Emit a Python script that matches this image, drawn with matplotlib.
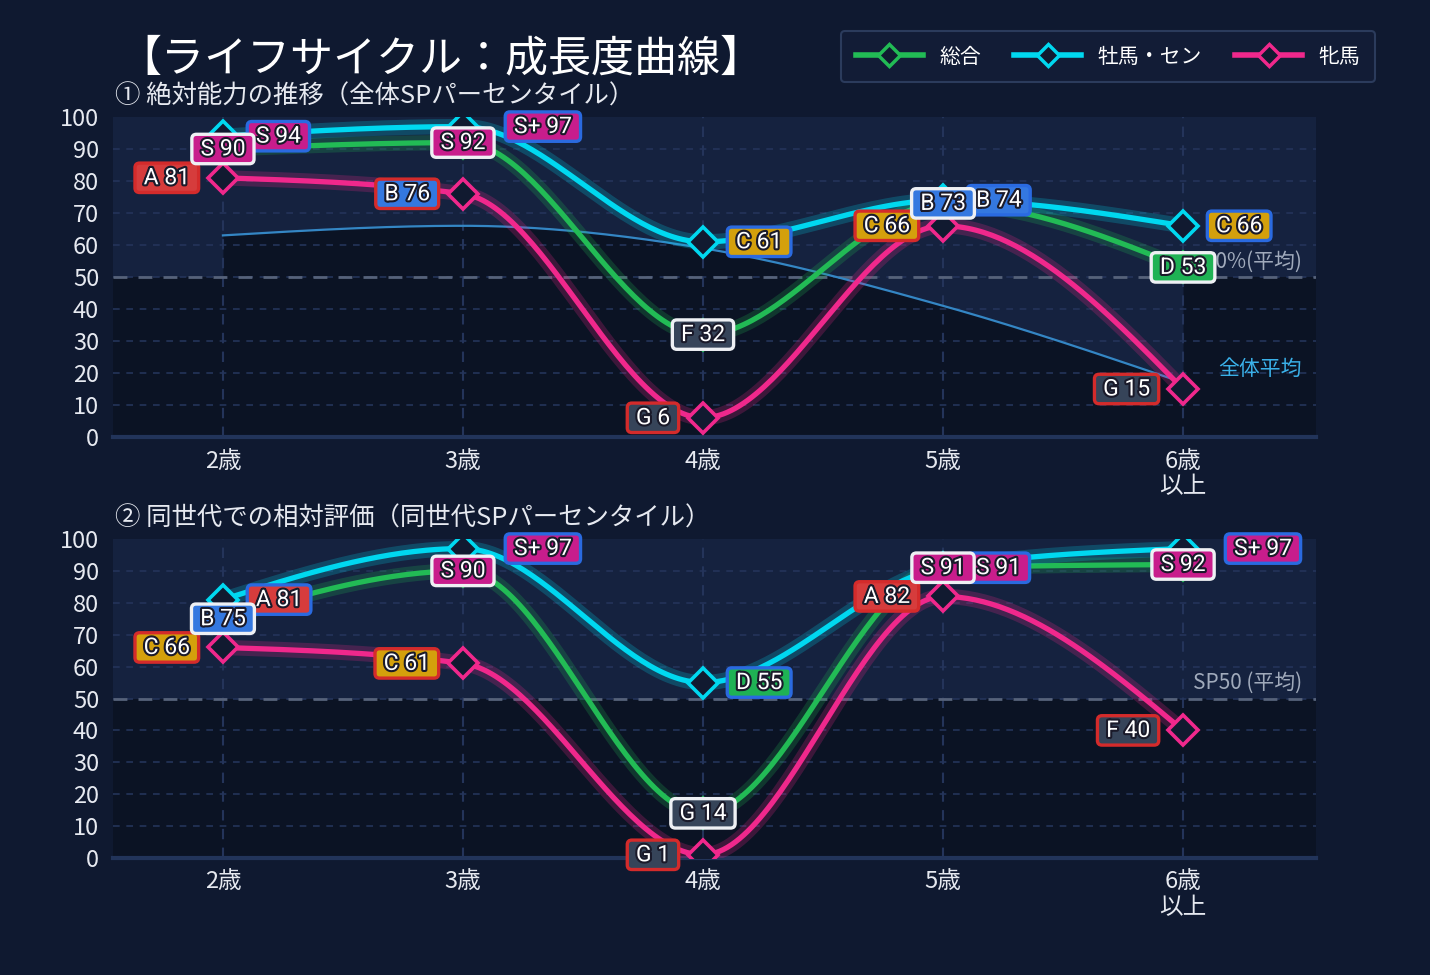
import numpy as np
import matplotlib.pyplot as plt
import matplotlib.patheffects as pe
from matplotlib.lines import Line2D
from matplotlib.path import Path

plt.rcParams['font.family'] = ['Noto Sans CJK JP', 'DejaVu Sans']

# ---- データ ----
ages = ['2歳', '3歳', '4歳', '5歳', '6歳\n以上']
series_names = ['総合', '牡馬・セン', '牝馬']

# ① 絶対能力（全体SPパーセンタイル）
abs_total = [90, 92, 32, 73, 53]
abs_total_grade = ['S', 'S', 'F', 'B', 'D']
abs_male = [94, 97, 61, 74, 66]
abs_male_grade = ['S', 'S+', 'C', 'B', 'C']
abs_female = [81, 76, 6, 66, 15]
abs_female_grade = ['A', 'B', 'G', 'C', 'G']
abs_avg = [63, 66, 59, 41, 17]

# ② 同世代での相対評価（同世代SPパーセンタイル）
rel_total = [75, 90, 14, 91, 92]
rel_total_grade = ['B', 'S', 'G', 'S', 'S']
rel_male = [81, 97, 55, 91, 97]
rel_male_grade = ['A', 'S+', 'D', 'S', 'S+']
rel_female = [66, 61, 1, 82, 40]
rel_female_grade = ['C', 'C', 'G', 'A', 'F']

# ---- 色 ----
BG = '#0f1930'
LIGHT = '#15223f'
DARK = '#0b1324'
GRID = '#24345a'
line_colors = ['#22bb55', '#00d8f0', '#f0288c']
border_colors = ['#eef0f4', '#2a6ae0', '#d42b2b']
grade_colors = {'S+': '#c81d8c', 'S': '#c81d8c', 'A': '#d63c3c', 'B': '#3478e0',
                'C': '#d4a00c', 'D': '#1fb254', 'E': '#364459', 'F': '#364459',
                'G': '#364459'}


def monotone(xv, yv, n=60):
    # d3 の monotoneX と同じ考え方のスムーズ曲線
    xv = np.asarray(xv, float)
    yv = np.asarray(yv, float)
    h = np.diff(xv)
    s = np.diff(yv) / h
    m = np.zeros_like(yv)
    for i in range(1, len(yv) - 1):
        p = (s[i - 1] * h[i] + s[i] * h[i - 1]) / (h[i - 1] + h[i])
        m[i] = (np.sign(s[i - 1]) + np.sign(s[i])) * min(abs(s[i - 1]), abs(s[i]), 0.5 * abs(p))
    m[0] = (3 * s[0] - m[1]) / 2
    m[-1] = (3 * s[-1] - m[-2]) / 2
    cx, cy = [], []
    for i in range(len(h)):
        t = np.linspace(0, 1, n)
        h00 = 2 * t**3 - 3 * t**2 + 1
        h10 = t**3 - 2 * t**2 + t
        h01 = -2 * t**3 + 3 * t**2
        h11 = t**3 - t**2
        cx.append(xv[i] + t * h[i])
        cy.append(h00 * yv[i] + h10 * h[i] * m[i] + h01 * yv[i + 1] + h11 * h[i] * m[i + 1])
    return np.concatenate(cx), np.concatenate(cy)


def tag_box(x0, y0, width, height, mutation_size):
    # 横に広め、縦に薄めの角丸ラベル
    px, py, r = 0.38 * mutation_size, 0.14 * mutation_size, 0.2 * mutation_size
    x0, y0 = x0 - px, y0 - py
    x1, y1 = x0 + width + 2 * px, y0 + height + 2 * py
    verts = [(x0 + r, y0), (x1 - r, y0), (x1, y0), (x1, y0 + r), (x1, y1 - r), (x1, y1),
             (x1 - r, y1), (x0 + r, y1), (x0, y1), (x0, y1 - r), (x0, y0 + r), (x0, y0),
             (x0 + r, y0), (x0 + r, y0)]
    codes = [Path.MOVETO, Path.LINETO, Path.CURVE3, Path.CURVE3, Path.LINETO, Path.CURVE3,
             Path.CURVE3, Path.LINETO, Path.CURVE3, Path.CURVE3, Path.LINETO, Path.CURVE3,
             Path.CURVE3, Path.CLOSEPOLY]
    return Path(verts, codes)


def put_tag(ax, x, y, grade, val, k):
    txt = f'{grade} {val}'
    if k == 0:
        off, ha = (0, 0), 'center'
    elif k == 1:
        off, ha = ((51 if grade == 'S+' else 33), 0), 'left'
    else:
        off, ha = (-33, 0), 'right'
    t = ax.annotate(txt, (x, y), xytext=off, textcoords='offset pixels', ha=ha, va='center',
                    fontsize=16.5, family=['Roboto', 'DejaVu Sans'], color='white',
                    zorder=8 - (k == 1) - 2 * (k == 2),
                    bbox=dict(boxstyle=tag_box, fc=grade_colors[grade], ec=border_colors[k], lw=2.4))
    t.set_path_effects([pe.withStroke(linewidth=3, foreground='#1a1a2a')])


def panel(ax, vals, grades, avg=None):
    xs = np.arange(len(ages))
    ax.set_facecolor(DARK)
    ax.set_xlim(-0.458, 4.554)
    ax.set_ylim(0, 100)
    ax.axhspan(50, 100, color=LIGHT, zorder=0, lw=0)
    if avg is not None:
        ax_, ay_ = monotone(xs, avg)
        ax.fill_between(ax_, ay_, 100, color=LIGHT, zorder=0.3, lw=0)
        ax.fill_between(ax_, 0, ay_, color=DARK, zorder=0.3, lw=0)
        ax.plot(ax_, ay_, color='#3486c4', lw=1.6, zorder=2)
    for v in range(10, 100, 10):
        ax.axhline(v, color=GRID, lw=1.2, ls=(0, (4, 4)), zorder=1)
    for x in xs:
        ax.axvline(x, color=GRID, lw=1.5, ls=(0, (5, 4)), zorder=1)
    ax.axhline(50, color='#56627a', lw=2, ls=(0, (5, 4)), zorder=1.5)

    for k in range(3):
        c = line_colors[k]
        cx, cy = monotone(xs, vals[k])
        ax.plot(cx, cy, color=c, lw=11, alpha=0.22, solid_capstyle='round', zorder=3 + k * 0.1)
        ax.plot(cx, cy, color=c, lw=3.8, solid_capstyle='round', zorder=3.05 + k * 0.1)
        ax.plot(xs, vals[k], 'D', ms=15, mfc='#111a30', mec=c, mew=2.6, zorder=4)
    # 総合のピーク
    top = int(np.argmax(vals[0]))
    ax.plot(xs[top], vals[0][top], marker='*', ms=20, color='#f0b400', zorder=4.5)

    for k in (2, 1, 0):
        for i in range(len(ages)):
            put_tag(ax, xs[i], vals[k][i], grades[k][i], vals[k][i], k)

    for sp in ax.spines.values():
        sp.set_visible(False)
    ax.spines['bottom'].set_visible(True)
    ax.spines['bottom'].set_color('#22345a')
    ax.spines['bottom'].set_linewidth(3)
    ax.set_yticks(range(0, 101, 10))
    ax.set_xticks(xs)
    ax.set_xticklabels(ages, linespacing=1.15)
    ax.tick_params(length=0, colors='#e6e9f0', labelsize=17)
    ax.tick_params(axis='y', pad=10)
    ax.tick_params(axis='x', pad=9)


fig = plt.figure(figsize=(14.3, 9.75), dpi=100, facecolor=BG)
ax1 = fig.add_axes([113 / 1430, 1 - 437 / 975, 1203 / 1430, 320 / 975])
ax2 = fig.add_axes([113 / 1430, 1 - 858 / 975, 1203 / 1430, 319 / 975])

panel(ax1, [abs_total, abs_male, abs_female],
      [abs_total_grade, abs_male_grade, abs_female_grade], avg=abs_avg)
panel(ax2, [rel_total, rel_male, rel_female],
      [rel_total_grade, rel_male_grade, rel_female_grade])

ax1.text(4.496, 54.7, '50%(平均)', ha='right', va='center', fontsize=15, color='#a0aabb', zorder=2)
ax1.text(4.496, 21.2, '全体平均', ha='right', va='center', fontsize=15, color='#3ab0e8', zorder=2)
ax2.text(4.496, 54.9, 'SP50 (平均)', ha='right', va='center', fontsize=15, color='#a0aabb', zorder=2)

fig.text(0.083, 1 - 59 / 975, '【ライフサイクル：成長度曲線】', fontsize=31, color='white',
         ha='left', va='center')
fig.text(0.0804, 1 - 97 / 975, '① 絶対能力の推移（全体SPパーセンタイル）', fontsize=18.3,
         color='#e6e9f0', ha='left', va='center')
fig.text(0.0804, 1 - 519 / 975, '② 同世代での相対評価（同世代SPパーセンタイル）', fontsize=18.3,
         color='#e6e9f0', ha='left', va='center')

handles = [Line2D([], [], color=c, lw=4, marker='D', ms=11, mfc='#111a30', mec=c, mew=2.5)
           for c in line_colors]
leg = fig.legend(handles, series_names, loc='upper right', bbox_to_anchor=(1375 / 1430, 1 - 31 / 975),
                 borderaxespad=0, ncol=3, fontsize=15, handlelength=3.2, columnspacing=1.6,
                 borderpad=0.7, labelcolor='white', fancybox=True)
leg.get_frame().set_facecolor('#121c36')
leg.get_frame().set_edgecolor('#2b3b5c')
leg.get_frame().set_linewidth(1.5)
leg.get_frame().set_alpha(1)

fig.savefig('out.png', dpi=100, facecolor=BG)
